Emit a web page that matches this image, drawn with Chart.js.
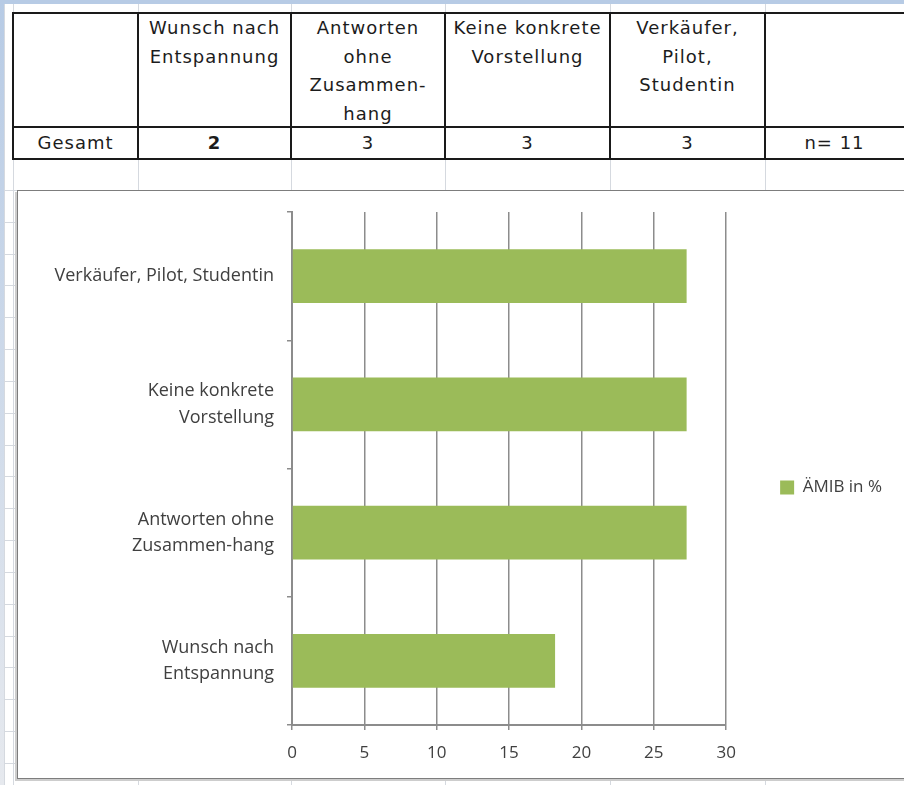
<!DOCTYPE html>
<html>
<head>
<meta charset="utf-8">
<script src="https://cdn.jsdelivr.net/npm/chart.js@4.4.0/dist/chart.umd.min.js"></script>
<style>
  body { margin: 0; width: 904px; height: 785px; overflow: hidden; background: #fff; position: relative; font-family: "DejaVu Sans", sans-serif; }
  .rand { position: absolute; }
  .gl { position: absolute; background: #d5d9df; }
  .tl { position: absolute; background: #1a1a1a; }
  .zelle { position: absolute; text-align: center; color: #1c1c1c; font-size: 18px; letter-spacing: 1px; white-space: nowrap; }
  #diagrammBox { position: absolute; left: 17px; top: 190px; width: 900px; height: 589px; box-sizing: border-box;
    border: 1px solid #7d7d7d; background: #fff; box-shadow: -2px 2px 0 #cdcdcd; }
  #diagramm { position: absolute; left: 0; top: 0; }
</style>
</head>
<body>
<div class="rand" style="left:0;top:0;width:904px;height:4px;background:#b7cbe5"></div>
<div class="rand" style="left:0;top:0;width:4px;height:785px;background:linear-gradient(#b7cbe5,#e6e9ee)"></div>
<div id="blatt"></div>
<div id="diagrammBox"><canvas id="diagramm" width="886" height="586"></canvas></div>

<script>
// Tabelle
const spaltenKoepfe = [
  ["Wunsch nach", "Entspannung"],
  ["Antworten", "ohne", "Zusammen-", "hang"],
  ["Keine konkrete", "Vorstellung"],
  ["Verkäufer,", "Pilot,", "Studentin"]
];
const anzahl = [2, 3, 3, 3];
const zeilenTitel = "Gesamt";
const gesamtN = "n= 11";

// Diagramm
const kategorien = [
  ["Verkäufer, Pilot, Studentin"],
  ["Keine konkrete", "Vorstellung"],
  ["Antworten ohne", "Zusammen-hang"],
  ["Wunsch nach", "Entspannung"]
];
const anteile = [27.27, 27.27, 27.27, 18.18];
const achsenWerte = [0, 5, 10, 15, 20, 25, 30];
const reihenName = "ÄMIB in %";

// Spaltengrenzen der Tabelle
const spalten = [13, 138, 291, 445, 610, 765, 904];
const blatt = document.getElementById("blatt");

function linie(cls, x, y, w, h) {
  const d = document.createElement("div");
  d.className = cls;
  d.style.left = x + "px";
  d.style.top = y + "px";
  d.style.width = w + "px";
  d.style.height = h + "px";
  blatt.appendChild(d);
}

// Gitternetz vom Tabellenblatt
[4].concat(spalten.slice(0, 6)).forEach(x => linie("gl", x, 4, 1, 781));
for (let k = 0; k <= 18; k++) {
  linie("gl", 4, Math.round(190 + k * 31.83), 900, 1);
}

// Rahmen der Tabelle
[13, 127, 159].forEach(y => linie("tl", 12, y - 1, 892, 2));
spalten.slice(0, 6).forEach(x => linie("tl", x - 1, 12, 2, 148));

function zelle(html, x1, x2, top, lh, fett) {
  const d = document.createElement("div");
  d.className = "zelle";
  d.style.left = x1 + "px";
  d.style.width = (x2 - x1) + "px";
  d.style.top = top + "px";
  d.style.lineHeight = lh + "px";
  if (fett) d.style.fontWeight = "bold";
  d.innerHTML = html;
  blatt.appendChild(d);
}

spaltenKoepfe.forEach((zeilen, i) => {
  zelle(zeilen.join("<br>"), spalten[i + 1], spalten[i + 2], 14, 28.5);
});
zelle(zeilenTitel, spalten[0], spalten[1], 127, 32);
anzahl.forEach((n, i) => {
  zelle(String(n), spalten[i + 1], spalten[i + 2], 127, 32, i === 0);
});
zelle(gesamtN, spalten[5], spalten[6], 127, 32);

// Balkendiagramm
const schrift = { family: "Open Sans", size: 17 };
const grau = "#8c8c8c";

// keine zusaetzliche Randreserve fuer die Beschriftungen
function ohnePadding(s) {
  s.paddingTop = 0;
  s.paddingBottom = 0;
  s.paddingLeft = 0;
  s.paddingRight = 0;
}

new Chart(document.getElementById("diagramm"), {
  type: "bar",
  data: {
    labels: kategorien,
    datasets: [{
      label: reihenName,
      data: anteile,
      backgroundColor: "#9bbb59",
      barPercentage: 0.42,
      categoryPercentage: 1
    }]
  },
  options: {
    indexAxis: "y",
    responsive: false,
    animation: false,
    layout: { padding: { top: 21, bottom: 14, left: 0, right: 12 } },
    scales: {
      x: {
        min: 0,
        max: 30,
        afterBuildTicks: s => { s.ticks = achsenWerte.map(v => ({ value: v })); },
        afterFit: s => { s.height = 38; },
        ticks: { font: schrift, color: "#404040", padding: 13 },
        grid: { color: grau, lineWidth: 1.5, tickLength: 5 },
        border: { color: grau, width: 2 }
      },
      y: {
        afterFit: s => { s.width = 274; ohnePadding(s); },
        ticks: { font: { family: "Open Sans", size: 18, lineHeight: 1.45 }, color: "#404040", padding: 13 },
        grid: { drawOnChartArea: false, offset: true, tickLength: 5, color: grau, lineWidth: 1.5 },
        border: { color: grau, width: 2 }
      }
    },
    plugins: {
      legend: {
        position: "right",
        labels: { boxWidth: 14, boxHeight: 14, padding: 54, font: schrift, color: "#404040" }
      },
      tooltip: { enabled: false }
    }
  }
});
</script>
</body>
</html>
